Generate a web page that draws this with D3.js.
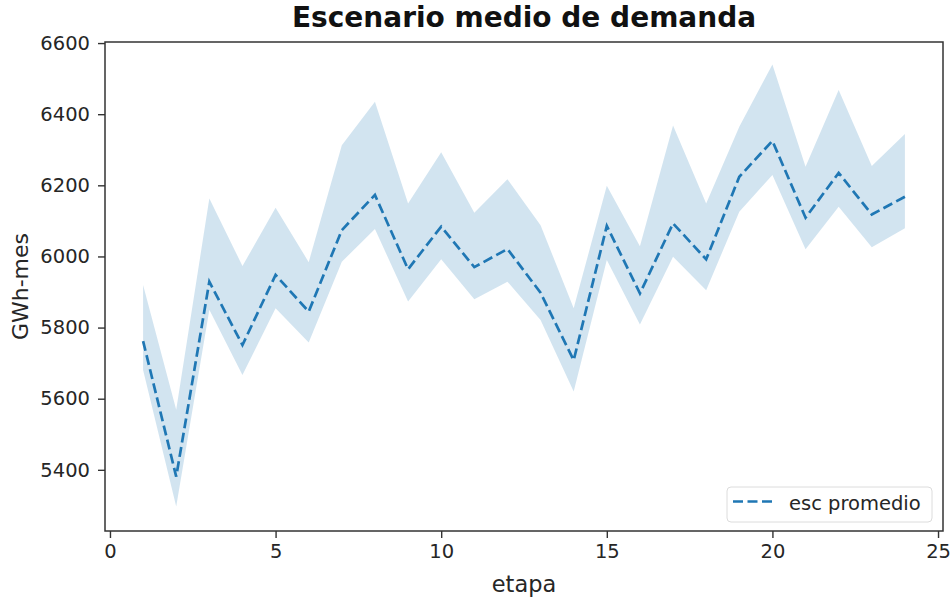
<!DOCTYPE html>
<html>
<head>
<meta charset="utf-8">
<script src="https://cdn.jsdelivr.net/npm/d3@7"></script>
<style>
  body { margin: 0; background: #fff; }
  svg { font-family: "DejaVu Sans", sans-serif; }
</style>
</head>
<body>
<svg width="950" height="599"></svg>
<script>
// etapas 1..24
const etapas = d3.range(1, 25);
const promedio = [5762, 5381, 5929, 5751, 5948, 5845, 6074, 6173, 5964, 6084, 5970, 6021,
                  5898, 5708, 6086, 5896, 6093, 5992, 6224, 6325, 6109, 6235, 6118, 6168];
const superior = [5920, 5569, 6163, 5973, 6137, 5984, 6313, 6435, 6149, 6293, 6123, 6217,
                  6088, 5854, 6199, 6029, 6368, 6149, 6365, 6540, 6252, 6468, 6254, 6344];
const inferior = [5681, 5297, 5850, 5667, 5854, 5758, 5985, 6077, 5873, 5992, 5880, 5929,
                  5821, 5620, 5990, 5809, 5999, 5905, 6126, 6229, 6020, 6140, 6026, 6079];
const xTicks = [0, 5, 10, 15, 20, 25];
const yTicks = [5400, 5600, 5800, 6000, 6200, 6400, 6600];

const svg = d3.select('svg');
const margin = {left: 105, right: 943, top: 42, bottom: 531};
const color = '#1f77b4';

const x = d3.scaleLinear().domain([-0.15, 25.15]).range([margin.left, margin.right]);
const y = d3.scaleLinear().domain([5228, 6603]).range([margin.bottom, margin.top]);

const datos = etapas.map((e, i) => ({e: e, m: promedio[i], hi: superior[i], lo: inferior[i]}));

// banda
const area = d3.area()
    .x(d => x(d.e))
    .y0(d => y(d.lo))
    .y1(d => y(d.hi));
svg.append('path')
    .datum(datos)
    .attr('d', area)
    .attr('fill', color)
    .attr('fill-opacity', 0.2);

// linea promedio
const line = d3.line().x(d => x(d.e)).y(d => y(d.m));
svg.append('path')
    .datum(datos)
    .attr('d', line)
    .attr('fill', 'none')
    .attr('stroke', color)
    .attr('stroke-width', 2.7)
    .attr('stroke-dasharray', '10,4.5');

// ejes
const xAxis = svg.append('g')
    .attr('transform', `translate(0,${margin.bottom})`)
    .call(d3.axisBottom(x).tickValues(xTicks).tickSize(7).tickPadding(6).tickFormat(d3.format('d')));
const yAxis = svg.append('g')
    .attr('transform', `translate(${margin.left},0)`)
    .call(d3.axisLeft(y).tickValues(yTicks).tickSize(7).tickPadding(8).tickFormat(d3.format('d')));

[xAxis, yAxis].forEach(g => {
    g.select('.domain').remove();
    g.selectAll('.tick line').attr('stroke', '#333').attr('stroke-width', 1.4);
    g.selectAll('.tick text').attr('fill', '#262626').style('font-size', '19.5px')
        .style('font-family', '"DejaVu Sans", sans-serif');
});

// marco
svg.append('rect')
    .attr('x', margin.left).attr('y', margin.top)
    .attr('width', margin.right - margin.left)
    .attr('height', margin.bottom - margin.top)
    .attr('fill', 'none')
    .attr('stroke', '#333')
    .attr('stroke-width', 1.5);

// titulo y etiquetas
svg.append('text')
    .attr('x', (margin.left + margin.right) / 2)
    .attr('y', 27)
    .attr('text-anchor', 'middle')
    .style('font-size', '28px')
    .style('font-weight', 'bold')
    .attr('fill', '#111')
    .text('Escenario medio de demanda');

svg.append('text')
    .attr('x', (margin.left + margin.right) / 2)
    .attr('y', 592)
    .attr('text-anchor', 'middle')
    .style('font-size', '22.5px')
    .attr('fill', '#262626')
    .text('etapa');

svg.append('text')
    .attr('transform', `translate(28,${(margin.top + margin.bottom) / 2}) rotate(-90)`)
    .attr('text-anchor', 'middle')
    .style('font-size', '22px')
    .attr('fill', '#262626')
    .text('GWh-mes');

// leyenda
const leg = svg.append('g').attr('transform', 'translate(727,487)');
leg.append('rect')
    .attr('width', 205).attr('height', 35)
    .attr('rx', 4)
    .attr('fill', '#fff')
    .attr('fill-opacity', 0.8)
    .attr('stroke', '#dcdcdc');
leg.append('line')
    .attr('x1', 6).attr('x2', 46)
    .attr('y1', 14.5).attr('y2', 14.5)
    .attr('stroke', color)
    .attr('stroke-width', 2.7)
    .attr('stroke-dasharray', '10,4.5');
leg.append('text')
    .attr('x', 62).attr('y', 23)
    .style('font-size', '19.5px')
    .attr('fill', '#262626')
    .text('esc promedio');
</script>
</body>
</html>
